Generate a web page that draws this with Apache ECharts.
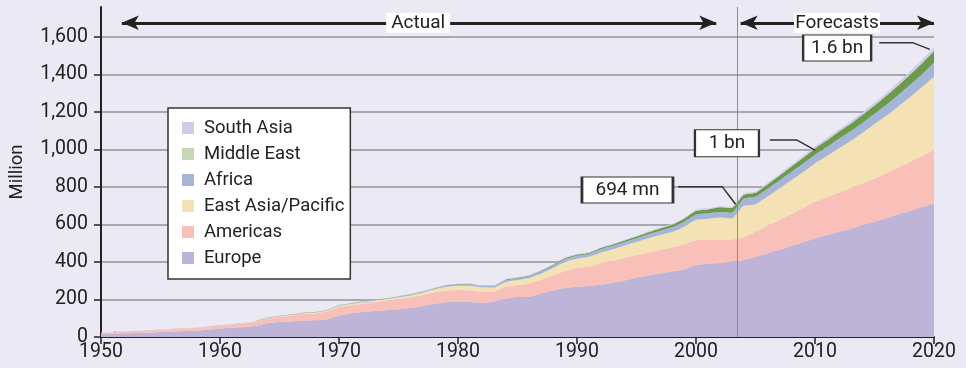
<!DOCTYPE html>
<html><head><meta charset="utf-8">
<script src="https://cdn.jsdelivr.net/npm/echarts@6/dist/echarts.min.js"></script>
<style>html,body{margin:0;padding:0;background:#ebe9f4;}#c{width:966px;height:368px;}</style>
</head><body><div id="c"></div>
<script>
const years = [];
for (let y = 1950; y <= 2020; y++) years.push(String(y));

const europe = [17,18.5,20,21.5,23.5,27,29,31.5,34,39, 45,49,53,60,74,80,84,87,89,93, 115,126,133,139,143,148,155,166,178,186, 189,187,183,187,205,213,215,232,248,262, 268,272,280,290,302,318,328,340,350,360, 384,391,395,402,411,428,447,466,486,506, 526,543,561,578,596,615,634,654,673,693, 714];
const americas = [7,7.5,8,9,10,11.5,12.5,13.5,14,15, 16,17,19,22,25,27,30,36,37,43, 45,44,45,48,51,54,56,57,59,62, 62,62,58,55,63,63,70,73,80,90, 100,104,114,117,120,119,121,124,128,133, 133,128,124,118,121,134,146,158,170,182, 195,202,210,216,224,231,240,250,261,272, 283];
const eastAsiaPacific = [0.2,0.3,0.3,0.4,0.5,0.6,0.7,0.7,0.8,0.8, 0.9,1.1,1.3,1.7,2.3,2.8,3.3,4,4.3,5, 6,6.5,7,8,8.5,10,11,13,16,20, 23,25,24,22,26,28,30,34,40,50, 50,52,56,61,66,70,78,80,82,95, 108,112,118,112,168,145,156,168,180,192, 205,220,236,252,270,290,307,326,346,368, 392];
const africa = [0.5,0.5,0.6,0.6,0.7,0.8,0.8,0.8,0.8,0.8, 0.8,0.9,1,1.1,1.3,1.4,1.5,1.6,1.8,2, 2.4,2.7,3,3.3,3.5,4.7,5,5.5,6.2,7, 7.2,8,8,8.5,9,9.7,9.5,10.5,12.5,13.8, 15,16,18,18.5,19,20,21.5,23,25,26.5, 28,28.5,29.5,30.5,38,41,42,43,44,45, 46,48,50,51,53,55,58,61,65,69, 74];
const middleEast = [0.2,0.2,0.2,0.2,0.3,0.3,0.3,0.4,0.4,0.5, 0.6,0.6,0.7,0.7,0.8,0.8,0.9,0.9,1,1, 1,1,1,1,1,1.1,1.1,1.2,1.2,1.2, 1.2,1.3,1.3,1.5,3,3.5,4,4.5,5,5.5, 6,5,6.5,7,8,9,10.5,12,13.5,16, 20,21,25,26,20,21,23,25,28,31, 34,36,38,40,42,44,48,51,55,58, 62];
const southAsia = [0.1,0.1,0.1,0.1,0.1,0.1,0.1,0.1,0.2,0.2, 0.2,0.2,0.3,0.3,0.4,0.4,0.5,0.5,0.6,0.7, 0.9,1,1,1.1,1.1,1.2,1.3,1.5,1.7,2, 2.2,2.3,2.3,2.3,2.4,2.5,2.6,2.8,3,3.1, 3.2,3.3,3.5,3.7,4,4.3,4.6,5,5.3,5.7, 6.1,5.8,6,6,7,7,7.5,8,8.8,9.4, 10,10.8,11.6,12.4,13.2,14,15,16,17,18, 19];

const yTicks = [0,200,400,600,800,1000,1200,1400,1600];
const xTickEvery = 10;

// annotations (data coordinates: year, million)
const actualArrow = [[1951.75,1676],[2001.7,1676]];
const forecastArrow = [[2003.75,1676],[2020,1676]];
const actualLabel = [1976.65,1676];
const forecastLabel = [2011.85,1676];
const splitYear = 2003.5;
const lead694 = [[1998.5,802],[2002.2,802],[2003.33,708]];
const lead1bn = [[2006.2,1051],[2008.45,1051],[2010,997]];
const lead16 = [[2015.4,1570],[2018.2,1570],[2019.65,1534]];
const box694 = [1994.24,784];
const box1bn = [2002.6,1033];
const box16 = [2011.86,1541];

const FONT = 'Roboto';

const regions = [
  {name:'Europe', data:europe, color:'#bdb4d8', legend:'#bdb4d8'},
  {name:'Americas', data:americas, color:'#f8c0b8', legend:'#f8c0b8'},
  {name:'East Asia/Pacific', data:eastAsiaPacific, color:'#f4e1b4', legend:'#f4e1b4'},
  {name:'Africa', data:africa, color:'#a4b5d8', legend:'#a4b5d8'},
  {name:'Middle East', data:middleEast, color:'#6a9a4a', legend:'#c6d7b9'},
  {name:'South Asia', data:southAsia, color:'#d0cae6', legend:'#d0cae6'}
];

const series = regions.map(r => ({
  name:r.name, type:'line', stack:'total', data:r.data,
  xAxisIndex:0, yAxisIndex:0,
  showSymbol:false, symbol:'none', smooth:0.15, lineStyle:{width:0},
  itemStyle:{color:r.color}, areaStyle:{color:r.color, opacity:1}, z:2,
  emphasis:{disabled:true}
}));

const leaderStyle = {color:'#333', width:1.5};
const boxStyle = {color:'#fff', borderColor:'#333', borderWidth:1.5};
const boxLabel = {show:true, position:'inside', color:'#222', fontSize:19, fontFamily:FONT};
const arrowLine = {color:'#222', width:3, type:'solid'};

series.push({
  name:'_arrows', type:'line', data:[], z:5, silent:true, xAxisIndex:1, yAxisIndex:0,
  markLine:{
    silent:true, z:5, label:{show:false}, symbol:['none','none'],
    data:[
      [{coord:actualArrow[0], symbol:'arrow', symbolSize:[11,17], lineStyle:arrowLine},
       {coord:actualArrow[1], symbol:'arrow', symbolSize:[11,17]}],
      [{coord:forecastArrow[0], symbol:'arrow', symbolSize:[11,17], lineStyle:arrowLine},
       {coord:forecastArrow[1], symbol:'arrow', symbolSize:[11,17]}],
      {xAxis:splitYear, symbol:'none', lineStyle:{color:'#8d8c94', width:1, type:'solid'}}
    ]
  }
});

[lead694, lead1bn, lead16].forEach((ld, k) => {
  series.push({
    name:'_lead'+k, type:'line', data:ld, z:6, silent:true, xAxisIndex:1, yAxisIndex:0,
    showSymbol:false, symbol:'none', lineStyle:leaderStyle, itemStyle:{color:'#333'}
  });
});

series.push({
  name:'_labels', type:'line', data:[], z:7, silent:true, xAxisIndex:1, yAxisIndex:0,
  markPoint:{
    silent:true, z:7,
    data:[
      {coord:actualLabel, symbol:'rect', symbolSize:[64,20], itemStyle:{color:'#fff'}, label:Object.assign({}, boxLabel, {formatter:'Actual'})},
      {coord:forecastLabel, symbol:'rect', symbolSize:[86,20], itemStyle:{color:'#fff'}, label:Object.assign({}, boxLabel, {formatter:'Forecasts'})},
      {coord:box694, symbol:'rect', symbolSize:[91,26], itemStyle:boxStyle, label:Object.assign({}, boxLabel, {formatter:'694 mn'})},
      {coord:box1bn, symbol:'rect', symbolSize:[64,27], itemStyle:boxStyle, label:Object.assign({}, boxLabel, {formatter:'1 bn'})},
      {coord:box16, symbol:'rect', symbolSize:[68,26], itemStyle:boxStyle, label:Object.assign({}, boxLabel, {formatter:'1.6 bn'})}
    ]
  }
});

const legendData = regions.slice().reverse().map(r => ({name:r.name, itemStyle:{color:r.legend}}));

const chart = echarts.init(document.getElementById('c'), null, {renderer:'canvas'});
chart.setOption({
  backgroundColor:'#ebe9f4',
  animation:false,
  textStyle:{fontFamily:FONT},
  grid:{left:101, right:32, top:7, bottom:31},
  legend:{
    data:legendData, orient:'vertical', left:168, top:108,
    backgroundColor:'#fff', borderColor:'#333', borderWidth:1.5,
    padding:[10,6,11,14], itemWidth:12, itemHeight:12, itemGap:6,
    icon:'rect', selectedMode:false,
    textStyle:{fontSize:18.5, color:'#222', fontFamily:FONT, lineHeight:20, padding:[0,0,0,5]}
  },
  xAxis:[{
    type:'category', data:years, boundaryGap:false,
    axisLine:{lineStyle:{color:'#222', width:2}},
    axisTick:{length:7, interval:(i)=> i % xTickEvery === 0, lineStyle:{color:'#222', width:1.5}},
    axisLabel:{fontSize:19.5, color:'#222', margin:5, fontFamily:FONT, interval:(i)=> i % xTickEvery === 0},
    splitLine:{show:false}
  },{
    type:'value', min:1950, max:2020, show:false
  }],
  yAxis:{
    type:'value', min:0, max:1760, interval:200,
    name:'Million', nameLocation:'middle', nameGap:74, nameRotate:90,
    nameTextStyle:{fontSize:18.5, color:'#222', fontFamily:FONT},
    axisLine:{show:true, lineStyle:{color:'#222', width:2}},
    axisTick:{show:true, length:7, lineStyle:{color:'#222', width:1.5}, customValues:yTicks},
    axisLabel:{fontSize:19.5, color:'#222', margin:13, fontFamily:FONT, customValues:yTicks,
      formatter:v => (yTicks.indexOf(v) < 0 ? '' : v.toLocaleString('en-US'))},
    splitLine:{show:true, lineStyle:{color:'#a9a8b1', width:2}}
  },
  series:series
});
</script></body></html>
